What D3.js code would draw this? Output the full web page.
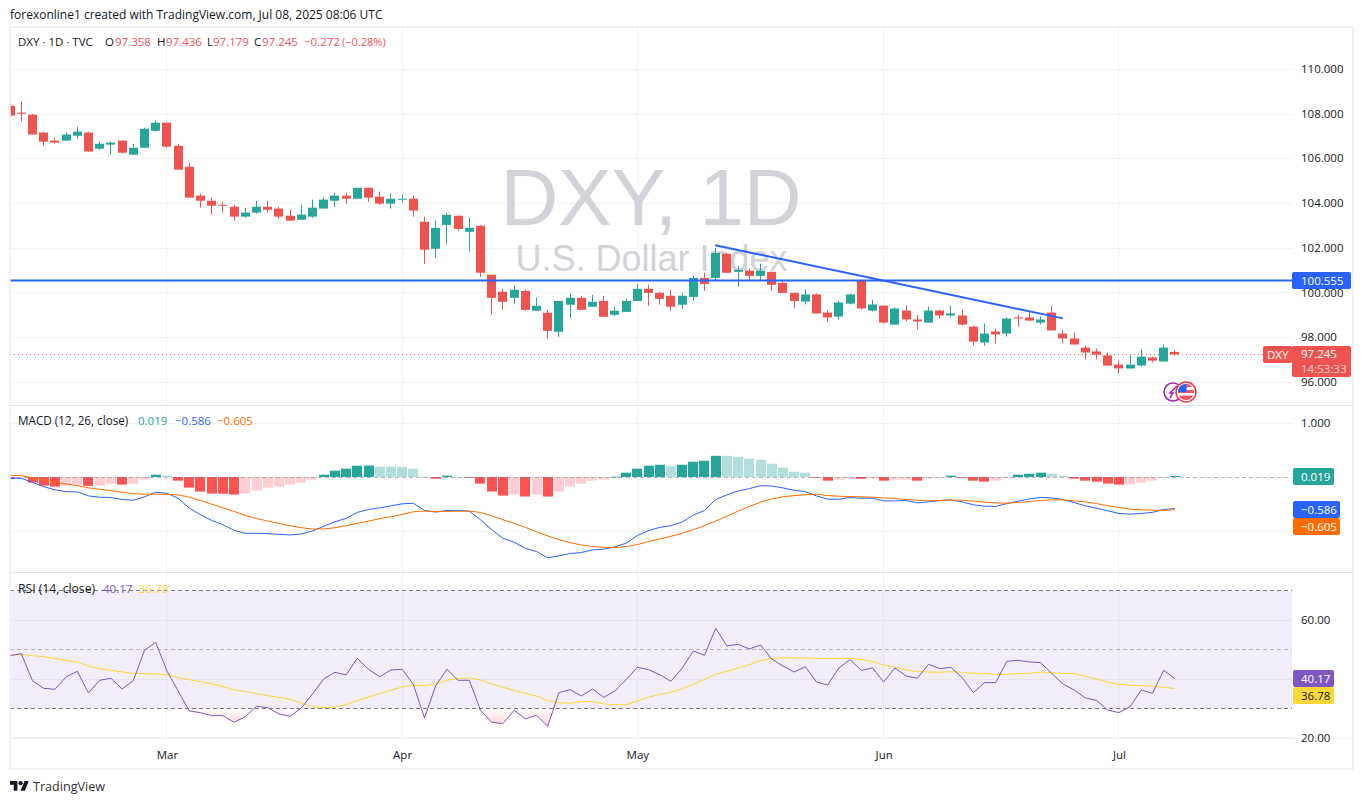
<!DOCTYPE html>
<html>
<head>
<meta charset="utf-8">
<script src="https://cdnjs.cloudflare.com/ajax/libs/d3/7.8.5/d3.min.js"></script>
<style>
html,body{margin:0;padding:0;background:#fff;overflow:hidden}
svg{display:block}
text{font-family:"Open Sans",sans-serif;}
</style>
</head>
<body>
<svg id="c" width="1364" height="804"></svg>
<script>
// ---------- DATA ----------
const opens=[108.37,108.06,107.97,107.17,106.81,106.81,107.03,107.17,106.45,106.63,106.81,106.18,106.49,107.25,107.61,106.58,105.64,104.35,104.12,103.94,103.85,103.41,103.59,103.85,103.77,103.45,103.27,103.41,103.77,104.12,104.35,104.21,104.70,104.30,103.99,104.17,104.21,
103.18,101.97,103.04,103.45,102.73,103.00,100.81,100.05,99.78,100.09,99.20,99.11,98.26,99.47,99.78,99.38,99.64,99.02,99.15,99.64,100.18,100.00,99.87,99.47,99.82,100.67,100.67,101.75,100.94,100.99,100.76,100.94,100.45,100.00,
99.61,99.93,99.12,98.94,99.52,100.55,99.21,99.43,98.58,99.21,98.81,98.67,99.21,98.99,98.99,98.49,97.78,98.27,98.18,98.90,98.90,98.67,99.12,98.18,97.96,97.55,97.38,97.20,96.79,96.62,96.75,97.11,96.93,97.358];
const closes=[107.93,108.01,107.08,106.76,106.72,107.08,107.21,106.32,106.67,106.72,106.27,106.49,107.34,107.61,106.54,105.51,104.26,104.12,103.90,103.90,103.41,103.59,103.85,103.72,103.41,103.23,103.50,103.81,104.17,104.35,104.21,104.70,104.26,103.99,104.21,104.21,103.68,
101.93,102.91,103.49,102.86,102.91,100.90,99.78,99.60,100.14,99.24,99.42,98.30,99.64,99.78,99.24,99.60,98.93,99.20,99.64,100.18,100.00,99.73,99.38,99.87,100.67,100.40,101.79,100.90,101.03,100.76,100.99,100.36,100.00,99.64,
99.93,99.08,98.90,99.57,99.93,99.30,99.48,98.67,99.30,98.81,98.72,99.21,98.99,99.08,98.58,97.82,98.18,98.14,98.85,98.85,98.76,98.81,98.32,97.96,97.69,97.33,97.24,96.75,96.62,96.79,97.15,96.97,97.55,97.245];
const highs=[108.49,108.55,108.01,107.21,106.94,107.17,107.43,107.21,106.76,106.76,106.81,106.67,107.39,107.70,107.61,106.67,105.82,104.44,104.26,104.08,103.94,103.81,104.12,104.12,103.85,103.72,103.94,104.17,104.26,104.48,104.48,104.70,104.70,104.53,104.44,104.39,104.35,
103.40,103.22,103.58,103.45,103.36,103.04,100.81,100.18,100.32,100.14,99.78,99.24,99.64,99.96,99.87,99.91,99.87,99.38,99.73,100.40,100.36,100.05,100.14,100.00,100.76,100.90,102.01,101.79,101.21,101.08,101.30,100.94,100.58,100.00,
100.15,99.97,99.21,99.66,99.97,100.60,99.70,99.43,99.34,99.43,98.99,99.39,99.25,99.43,99.25,98.54,98.63,98.40,98.90,99.03,99.17,98.94,99.43,98.32,98.23,97.64,97.51,97.33,96.97,97.20,97.47,97.15,97.69,97.436];
const lows=[107.84,107.66,107.08,106.58,106.67,106.81,106.90,106.32,106.40,106.18,106.23,106.18,106.49,107.21,106.49,105.51,104.26,103.81,103.50,103.59,103.23,103.36,103.54,103.59,103.32,103.23,103.27,103.36,103.77,103.85,103.99,104.21,104.08,103.94,103.77,104.03,103.41,
101.30,101.57,102.19,102.78,101.84,100.72,99.02,99.24,99.51,99.20,99.20,97.94,98.03,98.88,99.24,99.38,98.93,98.97,99.15,99.64,99.42,99.47,99.20,99.29,99.64,100.09,100.54,100.90,100.27,100.58,100.54,100.09,100.00,99.33,
99.48,99.08,98.72,98.81,99.48,99.25,99.17,98.63,98.58,98.72,98.36,98.67,98.85,98.90,98.54,97.64,97.64,97.73,98.05,98.49,98.76,98.58,98.32,97.73,97.69,97.02,97.02,96.75,96.39,96.62,96.70,96.88,96.93,97.179];
const macdHist=[-.04,-.015,-.104,-.16,-.178,-.16,-.141,-.165,-.16,-.123,-.141,-.123,-.049,.043,.025,-.068,-.196,-.27,-.307,-.31,-.325,-.307,-.252,-.196,-.178,-.141,-.104,-.049,.043,.117,.154,.209,.212,.19,.19,.187,.154,.006,-.031,.025,
.006,-.006,-.123,-.27,-.344,-.325,-.362,-.325,-.362,-.27,-.178,-.123,-.068,-.049,.006,.08,.154,.209,.227,.209,.227,.282,.301,.393,.39,.375,.338,.319,.246,.172,.098,.08,-.012,-.068,-.049,-.031,-.034,-.031,-.068,-.049,
-.049,-.068,-.031,-.006,.025,-.012,-.068,-.086,-.068,-.006,.043,.061,.08,.061,.025,-.031,-.068,-.086,-.123,-.141,-.141,-.104,-.068,-.012,.019];
const macdLine=[-.025,-.025,-.098,-.178,-.239,-.27,-.276,-.35,-.374,-.38,-.417,-.429,-.368,-.282,-.301,-.393,-.577,-.699,-.804,-.883,-.988,-1.043,-1.043,-1.049,-1.061,-1.074,-1.055,-1.0,-.914,-.828,-.767,-.656,-.601,-.571,-.534,-.497,-.485,-.62,-.65,-.62,
-.62,-.632,-.791,-.975,-1.135,-1.209,-1.319,-1.38,-1.497,-1.46,-1.417,-1.399,-1.35,-1.337,-1.294,-1.227,-1.086,-.994,-.933,-.902,-.834,-.706,-.62,-.417,-.331,-.258,-.215,-.16,-.166,-.202,-.245,-.27,-.35,-.411,-.411,-.38,-.393,-.393,-.442,-.442,
-.436,-.479,-.46,-.436,-.423,-.46,-.515,-.54,-.546,-.491,-.448,-.405,-.38,-.387,-.417,-.472,-.534,-.577,-.626,-.675,-.687,-.675,-.656,-.601,-.586];
const signalLine=[.031,.025,-.012,-.055,-.098,-.129,-.16,-.202,-.227,-.252,-.282,-.307,-.319,-.319,-.319,-.331,-.374,-.436,-.503,-.571,-.638,-.712,-.767,-.816,-.859,-.902,-.939,-.963,-.963,-.939,-.902,-.859,-.816,-.773,-.736,-.693,-.644,-.632,-.638,-.638,
-.632,-.632,-.656,-.718,-.791,-.859,-.933,-1.012,-1.092,-1.16,-1.215,-1.258,-1.288,-1.301,-1.307,-1.288,-1.252,-1.196,-1.147,-1.098,-1.043,-.975,-.902,-.816,-.724,-.632,-.546,-.466,-.405,-.368,-.344,-.331,-.319,-.344,-.356,-.362,-.368,-.374,-.387,-.399,
-.417,-.429,-.442,-.436,-.429,-.429,-.448,-.466,-.479,-.485,-.472,-.454,-.436,-.423,-.423,-.442,-.46,-.491,-.534,-.564,-.595,-.607,-.613,-.62,-.605];
const rsiLine=[47.98,48.66,39.37,36.87,36.53,40.73,42.65,35.28,39.59,40.27,36.64,39.48,49.80,52.52,42.77,35.96,29.16,28.59,27.57,27.57,25.31,27.23,30.75,30.29,28.14,27.35,30.18,34.94,40.05,42.31,41.41,47.07,43.33,40.84,43.11,43.33,38.23,26.78,37.78,43.33,
39.59,39.59,29.39,25.31,24.85,29.39,26.44,27.69,23.95,35.40,36.42,34.26,36.64,33.81,35.96,39.82,44.01,43.22,41.52,39.25,43.67,49.57,48.10,57.28,51.27,51.84,50.25,51.61,46.85,44.47,42.43,44.24,39.02,38.00,43.79,46.62,42.99,43.79,39.02,43.79,
41.07,40.27,45.03,43.56,44.01,40.50,35.40,38.80,38.80,46.05,46.39,45.83,45.60,41.97,38.34,36.30,33.58,32.79,29.50,28.59,30.63,36.30,35.17,42.99,40.17];
const rsiMa=[48.21,48.32,47.98,47.64,46.96,46.39,45.83,44.47,43.56,42.99,42.43,41.97,41.86,41.75,41.41,40.50,39.82,39.14,38.46,37.44,36.30,35.74,35.06,34.38,33.81,33.13,31.88,30.63,30.29,30.52,31.32,32.68,33.92,35.06,36.19,37.32,37.89,37.66,38.46,39.59,
40.16,40.39,39.71,38.34,37.21,36.19,35.17,34.26,32.68,31.99,31.77,32.34,32.34,31.54,31.32,31.32,32.56,33.81,34.83,35.51,36.64,38.23,39.93,41.63,42.65,43.79,44.92,46.28,46.96,47.30,47.19,47.19,47.07,46.96,47.07,47.07,46.73,45.94,44.81,44.13,
43.11,42.54,42.43,42.31,42.54,42.31,41.97,41.97,41.63,41.63,41.86,41.97,42.43,42.20,41.97,41.86,40.95,40.05,39.02,38.23,37.89,37.78,37.55,37.21,36.78];
const monthLabels=["Mar","Apr","May","Jun","Jul"];
const monthIndex=[14,35,56,78,99];
const priceTicks=[96,98,100,102,104,106,108,110];
const macdTicks=[1,-1];
const rsiTicks=[60,40,20];
const rsiLevels=[70,50,30];
const hLevel=100.555;
const trendIndex=[62.95,94];
const trendPrice=[102.13,98.86];
const lastPrice=97.245;

// ---------- COLOURS ----------
const UP="#26a69a",DOWN="#ef5350",BLUE="#2962ff",ORANGE="#ff6d00",PURPLE="#7e57c2",YELLOW="#fdd835",
      GRID="#f2f3f5",BORDER="#eef0f4",TXT="#131722";

// ---------- SCALES ----------
const L=10,R=1292;
const x=d3.scaleLinear().domain([0,104]).range([10.1,10.1+11.2*104]);
const yP=d3.scaleLinear().domain([96,108]).range([382.3,114]);
const yM=d3.scaleLinear().domain([-1,1]).range([531,423]);
const yR=d3.scaleLinear().domain([20,60]).range([737.9,620.3]);

const svg=d3.select("#c");
const defs=svg.append("defs");
function clip(id,x0,y0,x1,y1){defs.append("clipPath").attr("id",id).append("rect").attr("x",x0).attr("y",y0).attr("width",x1-x0).attr("height",y1-y0);}
clip("cMain",L,27,R,405);clip("cMacd",L,405,R,572);clip("cRsi",L,573,R,738);
clip("cLow",L,yR(30),R,738);
const grad=defs.append("linearGradient").attr("id","lowGrad").attr("gradientUnits","userSpaceOnUse").attr("x1",0).attr("x2",0).attr("y1",yR(30)).attr("y2",yR(23));
grad.append("stop").attr("offset",0).attr("stop-color","#ff5252").attr("stop-opacity",0);
grad.append("stop").attr("offset",1).attr("stop-color","#ff5252").attr("stop-opacity",.3);

const hl=(g,x1,x2,y,c,w=1,dash=null)=>g.append("line").attr("x1",x1).attr("x2",x2).attr("y1",y).attr("y2",y).attr("stroke",c).attr("stroke-width",w).attr("stroke-dasharray",dash);
const snap=v=>Math.floor(v)+.5;

// ---------- GRID ----------
const grid=svg.append("g");
monthIndex.forEach(i=>grid.append("line").attr("x1",snap(x(i))).attr("x2",snap(x(i))).attr("y1",27).attr("y2",738).attr("stroke",GRID));
priceTicks.forEach(t=>hl(grid,L,R,snap(yP(t)),GRID));
macdTicks.forEach(t=>hl(grid,L,R,snap(yM(t)),GRID));
rsiTicks.forEach(t=>hl(grid,L,R,snap(yR(t)),GRID));

// ---------- WATERMARK ----------
const wm=svg.append("g").attr("fill","#d1d3d8").attr("text-anchor","middle");
wm.append("text").attr("x",651).attr("y",225).attr("font-size",80).style("font-family","'Liberation Sans',Arial,sans-serif").text("DXY, 1D");
wm.append("text").attr("x",651.5).attr("y",271).attr("font-size",36).style("font-family","'Liberation Sans',Arial,sans-serif").text("U.S. Dollar Index");

// ---------- MAIN PANE ----------
const main=svg.append("g").attr("clip-path","url(#cMain)");
hl(main,L,1263,snap(yP(lastPrice)),"#ef5350",1,"1 3");
const idx=d3.range(opens.length);
const candles=main.selectAll("g.c").data(idx).join("g").attr("class","c")
 .attr("fill",i=>closes[i]>=opens[i]?UP:DOWN);
candles.append("rect").attr("x",i=>Math.floor(x(i))).attr("width",1)
 .attr("y",i=>yP(highs[i])).attr("height",i=>yP(lows[i])-yP(highs[i]));
candles.append("rect").attr("x",i=>Math.round(x(i)-4.5)).attr("width",9)
 .attr("y",i=>yP(Math.max(opens[i],closes[i])))
 .attr("height",i=>Math.max(1,Math.abs(yP(opens[i])-yP(closes[i]))));
hl(main,L,R,yP(hLevel),BLUE,2);
main.append("path").datum(trendIndex.map((t,k)=>[t,trendPrice[k]]))
 .attr("d",d3.line().x(d=>x(d[0])).y(d=>yP(d[1]))).attr("fill","none").attr("stroke",BLUE).attr("stroke-width",2);

// event icons
const ic=svg.append("g");
ic.append("circle").attr("cx",1173).attr("cy",392).attr("r",9).attr("fill","#fff").attr("stroke","#9c27b0").attr("stroke-width",1.5);
ic.append("path").attr("d","M1177 386l-7 7h3l-3 5").attr("fill","none").attr("stroke","#9c27b0").attr("stroke-width",1.5);
ic.append("circle").attr("cx",1186).attr("cy",392).attr("r",10).attr("fill","#fff").attr("stroke","#f23645").attr("stroke-width",1.5);
defs.append("clipPath").attr("id","flag").append("circle").attr("cx",1186).attr("cy",392).attr("r",8);
const fl=ic.append("g").attr("clip-path","url(#flag)");
fl.append("rect").attr("x",1178).attr("y",384).attr("width",16).attr("height",3.2).attr("fill","#f7525f");
fl.append("rect").attr("x",1178).attr("y",390).attr("width",16).attr("height",3).attr("fill","#f7525f");
fl.append("rect").attr("x",1178).attr("y",395.6).attr("width",16).attr("height",5).attr("fill","#f7525f");
fl.append("rect").attr("x",1178).attr("y",384).attr("width",8.5).attr("height",8).attr("fill","#2962ff");

// ---------- MACD PANE ----------
const mp=svg.append("g").attr("clip-path","url(#cMacd)");
const zero=yM(0);
mp.selectAll("rect.h").data(idx).join("rect").attr("class","h")
 .attr("x",i=>Math.round(x(i)-5)).attr("width",10)
 .attr("y",i=>Math.min(yM(macdHist[i]),zero)).attr("height",i=>Math.max(.8,Math.abs(yM(macdHist[i])-zero)))
 .attr("fill",i=>{const v=macdHist[i],p=i?macdHist[i-1]:0;
   return v>=0?(v>p?UP:"#b2dfdb"):(v<p?"#ff5252":"#ffcdd2");});
hl(mp,L,R,snap(zero),"rgba(120,123,134,.55)",1,"4 3");
const lineM=d3.line().x((d,i)=>x(i)).y(d=>yM(d));
mp.append("path").datum(macdLine).attr("d",lineM).attr("fill","none").attr("stroke",BLUE).attr("stroke-width",1);
mp.append("path").datum(signalLine).attr("d",lineM).attr("fill","none").attr("stroke",ORANGE).attr("stroke-width",1);

// ---------- RSI PANE ----------
const rp=svg.append("g").attr("clip-path","url(#cRsi)");
rp.append("rect").attr("x",L).attr("width",R-L).attr("y",yR(70)).attr("height",yR(30)-yR(70)).attr("fill",PURPLE).attr("fill-opacity",.1);
hl(rp,L,R,snap(yR(70)),"#787b86",1,"4 3");
hl(rp,L,R,snap(yR(50)),"rgba(120,123,134,.5)",1,"4 3");
hl(rp,L,R,snap(yR(30)),"#787b86",1,"4 3");
rp.append("path").datum(rsiLine).attr("clip-path","url(#cLow)")
 .attr("d",d3.area().x((d,i)=>x(i)).y0(yR(30)).y1(d=>yR(d))).attr("fill","url(#lowGrad)");
const lineR=d3.line().x((d,i)=>x(i)).y(d=>yR(d));
rp.append("path").datum(rsiMa).attr("d",lineR).attr("fill","none").attr("stroke",YELLOW).attr("stroke-width",1);
rp.append("path").datum(rsiLine).attr("d",lineR).attr("fill","none").attr("stroke",PURPLE).attr("stroke-width",1);

// ---------- FRAME ----------
const fr=svg.append("g");
fr.append("rect").attr("x",10).attr("y",27).attr("width",1343).attr("height",742).attr("fill","none").attr("stroke",BORDER).attr("stroke-width",1.5);
hl(fr,10,1353,405.5,"#e0e3eb");
hl(fr,10,1353,572.5,"#e0e3eb");
hl(fr,10,1353,738.5,BORDER);

// ---------- AXES ----------
const FS=11.5;
function styleAxis(g){g.select(".domain").remove();g.selectAll(".tick line").remove();
 g.selectAll("text").attr("fill",TXT).attr("font-size",FS).style("font-family",'"Open Sans",sans-serif');}
svg.append("g").attr("transform","translate(1301,-0.5)")
 .call(d3.axisRight(yP).tickValues(priceTicks).tickFormat(d3.format(".3f")).tickSize(0).tickPadding(0)).call(styleAxis);
svg.append("g").attr("transform","translate(1301,0)")
 .call(d3.axisRight(yM).tickValues([1]).tickFormat(d3.format(".3f")).tickSize(0).tickPadding(0)).call(styleAxis);
svg.append("g").attr("transform","translate(1301,0)")
 .call(d3.axisRight(yR).tickValues([60,20]).tickFormat(d3.format(".2f")).tickSize(0).tickPadding(0)).call(styleAxis);
const xAxisScale=d3.scaleOrdinal().domain(monthLabels).range(monthIndex.map(i=>x(i)));
svg.append("g").attr("transform","translate(0,751)")
 .call(d3.axisBottom(xAxisScale).tickValues(monthLabels).tickSize(0).tickPadding(0)).call(styleAxis);

// ---------- PRICE / VALUE LABELS ----------
function label(px,py,w,h,fill,lines,tx,color){
 svg.append("rect").attr("x",px).attr("y",py).attr("width",w).attr("height",h).attr("rx",2).attr("fill",fill);
 lines.forEach(l=>svg.append("text").attr("x",tx).attr("y",l.y).attr("font-size",FS).attr("fill",l.c||color).text(l.t));
}
const fmtM=v=>d3.format(".3f")(v).replace("-","−");
label(1292,272,59,17,BLUE,[{t:d3.format(".3f")(hLevel),y:284.5}],1301,"#fff");
label(1263,346,29,17,DOWN,[{t:"DXY",y:358.5}],1267,"#fff");
label(1292,346,59,31,DOWN,[{t:d3.format(".3f")(lastPrice),y:358},{t:"14:53:33",y:373,c:"#ffd5d3"}],1301,"#fff");
label(1293,468,41,17,UP,[{t:fmtM(macdHist[104]),y:481}],1301,"#fff");
label(1293,501,47,17,BLUE,[{t:fmtM(macdLine[104]),y:514}],1301,"#fff");
label(1293,518,47,17,ORANGE,[{t:fmtM(signalLine[104]),y:531}],1301,"#fff");
label(1293,670,41,17,PURPLE,[{t:rsiLine[104].toFixed(2),y:683}],1301,"#fff");
label(1293,687,41,17,YELLOW,[{t:rsiMa[104].toFixed(2),y:700}],1301,TXT);

// ---------- HEADER & LEGENDS ----------
function t(px,py,s,c=TXT,fs=12){return svg.append("text").attr("x",px).attr("y",py).attr("font-size",fs).attr("fill",c).text(s);}
t(10,19,"forexonline1 created with TradingView.com, Jul 08, 2025 08:06 UTC");
const R2="#f7525f",LS=11.5;
t(18,46,"DXY · 1D · TVC",TXT,LS);
t(105,46,"O",TXT,LS);t(115,46,opens[104].toFixed(3),R2,LS);
t(157,46,"H",TXT,LS);t(166,46,highs[104].toFixed(3),R2,LS);
t(207,46,"L",TXT,LS);t(213,46,lows[104].toFixed(3),R2,LS);
t(254,46,"C",TXT,LS);t(262,46,closes[104].toFixed(3),R2,LS);
t(304,46,"−0.272",R2,LS);t(342,46,"(−0.28%)",R2,LS-.5);
t(18,425,"MACD (12, 26, close)",TXT,LS+.2);
t(138,425,macdHist[104].toFixed(3),UP,LS);
t(175,425,fmtM(macdLine[104]),BLUE,LS);
t(217,425,fmtM(signalLine[104]),ORANGE,LS);
t(18,593,"RSI (14, close)",TXT,12.2);
t(103,593,rsiLine[104].toFixed(2),PURPLE,LS);
t(139,593,rsiMa[104].toFixed(2),YELLOW,LS);

// ---------- FOOTER ----------
const logo=svg.append("g").attr("transform","translate(10,779) scale(.53)").attr("fill",TXT);
logo.append("path").attr("d","M14 22H7V11H0V4h14v18zM28 22h-8l7.5-18h8L28 22z");
logo.append("circle").attr("cx",20).attr("cy",8).attr("r",4);
t(33,791,"TradingView","#333",12.6);
</script>
</body>
</html>
